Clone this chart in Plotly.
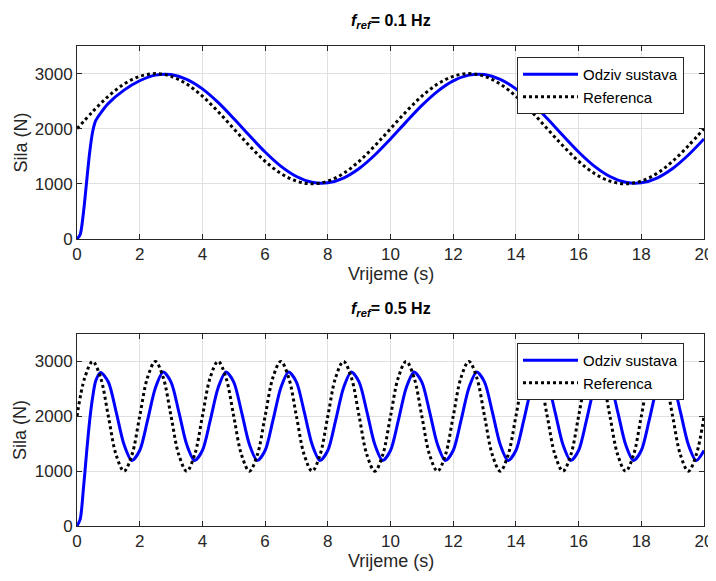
import plotly.graph_objects as go

# ---------------- data ----------------
t_ref1 = [i * 0.5 for i in range(41)]
ref1 = [2000, 2310, 2590, 2810, 2950, 3000, 2950, 2810, 2590, 2310,
        2000, 1690, 1410, 1190, 1050, 1000, 1050, 1190, 1410, 1690,
        2000, 2310, 2590, 2810, 2950, 3000, 2950, 2810, 2590, 2310,
        2000, 1690, 1410, 1190, 1050, 1000, 1050, 1190, 1410, 1690,
        2000]

t_resp1 = [0, 0.1, 0.2, 0.3, 0.4, 0.5, 0.6, 0.8, 1.0,
           1.5, 2, 2.5, 3, 3.5, 4, 4.5, 5, 5.5, 6, 6.5, 7, 7.5, 8, 8.5, 9, 9.5, 10,
           10.5, 11, 11.5, 12, 12.5, 13, 13.5, 14, 14.5, 15, 15.5, 16, 16.5, 17,
           17.5, 18, 18.5, 19, 19.5, 20]
resp1 = [0, 80, 450, 1000, 1550, 1950, 2150, 2320, 2460,
         2700, 2870, 2972, 2982, 2895, 2722, 2477, 2185, 1876, 1578, 1322, 1133,
         1028, 1018, 1105, 1278, 1523, 1815,
         2124, 2422, 2678, 2867, 2972, 2982, 2895, 2722, 2477, 2185, 1876, 1578,
         1322, 1133, 1028, 1018, 1105, 1278, 1523, 1815]

t_ref2 = [i * 0.25 for i in range(81)]
ref2 = [2000, 2707, 3000, 2707, 2000, 1293, 1000, 1293,
        2000, 2707, 3000, 2707, 2000, 1293, 1000, 1293,
        2000, 2707, 3000, 2707, 2000, 1293, 1000, 1293,
        2000, 2707, 3000, 2707, 2000, 1293, 1000, 1293,
        2000, 2707, 3000, 2707, 2000, 1293, 1000, 1293,
        2000, 2707, 3000, 2707, 2000, 1293, 1000, 1293,
        2000, 2707, 3000, 2707, 2000, 1293, 1000, 1293,
        2000, 2707, 3000, 2707, 2000, 1293, 1000, 1293,
        2000, 2707, 3000, 2707, 2000, 1293, 1000, 1293,
        2000, 2707, 3000, 2707, 2000, 1293, 1000, 1293,
        2000]

t_resp2 = [0, 0.1, 0.2, 0.3, 0.4, 0.5, 0.6, 0.75] + [1.0 + i * 0.25 for i in range(77)]
resp2 = [0, 120, 650, 1300, 1900, 2350, 2650, 2800,
         2624, 2076, 1484, 1193,
         1376, 1924, 2516, 2807, 2624, 2076, 1484, 1193,
         1376, 1924, 2516, 2807, 2624, 2076, 1484, 1193,
         1376, 1924, 2516, 2807, 2624, 2076, 1484, 1193,
         1376, 1924, 2516, 2807, 2624, 2076, 1484, 1193,
         1376, 1924, 2516, 2807, 2624, 2076, 1484, 1193,
         1376, 1924, 2516, 2807, 2624, 2076, 1484, 1193,
         1376, 1924, 2516, 2807, 2624, 2076, 1484, 1193,
         1376, 1924, 2516, 2807, 2624, 2076, 1484, 1193,
         1376, 1924, 2516, 2807, 2624, 2076, 1484, 1193,
         1376]

x_ticks = [0, 2, 4, 6, 8, 10, 12, 14, 16, 18, 20]
y_ticks = [0, 1000, 2000, 3000]
titles = ["<i>f</i><sub><i>ref</i></sub>= 0.1 Hz", "<i>f</i><sub><i>ref</i></sub>= 0.5 Hz"]
legend_names = ["Odziv sustava", "Referenca"]

# ---------------- figure ----------------
OFF = 8                      # default page body margin
W, H = 716 - OFF, 581 - OFF  # figure size so that it fills the window
FONT = "Liberation Sans, Arial, Helvetica, sans-serif"
AX = "#262626"

def px(xp):   # window pixel x -> paper
    return (xp - OFF) / W

def py(yp):   # window pixel y -> paper
    return 1 - (yp - OFF) / H

fig = go.Figure()

fig.add_trace(go.Scatter(x=t_resp1, y=resp1, mode="lines", name=legend_names[0],
                         line=dict(color="#0000ff", width=3, shape="spline", smoothing=0.8),
                         xaxis="x", yaxis="y", legend="legend"))
fig.add_trace(go.Scatter(x=t_ref1, y=ref1, mode="lines", name=legend_names[1],
                         line=dict(color="#000000", width=3, dash="dot", shape="spline"),
                         xaxis="x", yaxis="y", legend="legend"))
fig.add_trace(go.Scatter(x=t_resp2, y=resp2, mode="lines", name=legend_names[0],
                         line=dict(color="#0000ff", width=3, shape="spline", smoothing=0.8),
                         xaxis="x2", yaxis="y2", legend="legend2"))
fig.add_trace(go.Scatter(x=t_ref2, y=ref2, mode="lines", name=legend_names[1],
                         line=dict(color="#000000", width=3, dash="dot", shape="spline"),
                         xaxis="x2", yaxis="y2", legend="legend2"))

XL, XR = 77, 704
T1, B1 = 46, 239
T2, B2 = 334, 526
xdom = [px(XL), px(XR)]
ydom1 = [py(B1), py(T1)]
ydom2 = [py(B2), py(T2)]

def xax(anchor, dom):
    return dict(domain=dom, anchor=anchor, range=[0, 20], tickvals=x_ticks,
                ticks="inside", ticklen=5, tickcolor=AX, mirror="ticks",
                showline=True, linecolor=AX, linewidth=1, automargin=False,
                showgrid=True, gridcolor="#e0e0e0", gridwidth=1, zeroline=False,
                tickfont=dict(family=FONT, size=17, color=AX))

def yax(anchor, dom):
    return dict(domain=dom, anchor=anchor, range=[0, 3500], tickvals=y_ticks,
                ticks="inside", ticklen=5, tickcolor=AX, mirror="ticks",
                showline=True, linecolor=AX, linewidth=1, automargin=False,
                showgrid=True, gridcolor="#e0e0e0", gridwidth=1, zeroline=False,
                tickfont=dict(family=FONT, size=17, color=AX))

leg_common = dict(bgcolor="white", bordercolor=AX, borderwidth=1,
                  font=dict(family=FONT, size=15, color="#000000"),
                  xanchor="left", yanchor="top", tracegroupgap=0,
                  itemwidth=55)

fig.update_layout(
    width=W, height=H,
    margin=dict(l=0, r=0, t=0, b=0),
    paper_bgcolor="white", plot_bgcolor="white",
    xaxis=xax("y", xdom), yaxis=yax("x", ydom1),
    xaxis2=xax("y2", xdom), yaxis2=yax("x2", ydom2),
    legend=dict(x=px(517), y=py(57), **leg_common),
    legend2=dict(x=px(517), y=py(343), **leg_common),
    showlegend=True,
)

ann = []
for ttl, ytop, ybot in [(titles[0], T1, B1), (titles[1], T2, B2)]:
    ann.append(dict(text="<b>" + ttl + "</b>", x=px((XL + XR) / 2), y=py(ytop - 25),
                    xref="paper", yref="paper", showarrow=False, xanchor="center", yanchor="middle",
                    font=dict(family=FONT, size=16, color="#000000")))
    ann.append(dict(text="Vrijeme (s)", x=px((XL + XR) / 2), y=py(ybot + 35),
                    xref="paper", yref="paper", showarrow=False, xanchor="center", yanchor="middle",
                    font=dict(family=FONT, size=18, color=AX)))
    ann.append(dict(text="Sila (N)", x=px(20), y=py((ytop + ybot) / 2), textangle=-90,
                    xref="paper", yref="paper", showarrow=False, xanchor="center", yanchor="middle",
                    font=dict(family=FONT, size=18, color=AX)))
fig.update_layout(annotations=ann)

fig.write_html("out.html")
